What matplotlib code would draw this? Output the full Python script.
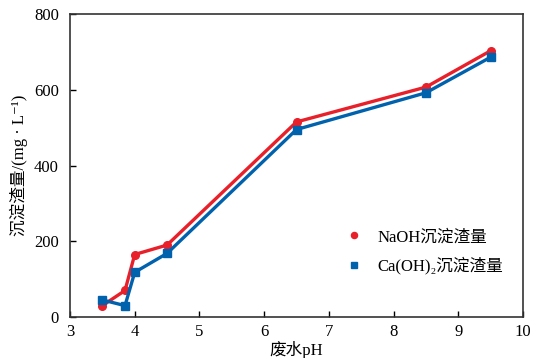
import matplotlib
matplotlib.use('Agg')
import matplotlib.pyplot as plt

plt.rcParams['font.family'] = ['Liberation Serif', 'Noto Sans CJK SC', 'DejaVu Serif']

PH = [3.5, 3.85, 4.0, 4.5, 6.5, 8.5, 9.5]
NAOH = [30, 70, 165, 190, 515, 607, 703]
CAOH = [45, 30, 118, 168, 495, 592, 686]

RED = '#e8202a'
BLUE = '#0062ad'


def main():
    fig = plt.figure(figsize=(5.34, 3.58), dpi=100)
    ax = fig.add_axes([70 / 534, 41 / 358, 453 / 534, 303 / 358])

    ax.plot(PH, NAOH, color=RED, lw=2.4, marker='o', ms=5.5,
            label='NaOH沉淀渣量')
    ax.plot(PH, CAOH, color=BLUE, lw=2.4, marker='s', ms=5.5,
            label='Ca(OH)₂沉淀渣量')

    ax.set_xlim(3, 10)
    ax.set_ylim(0, 800)
    ax.set_xticks(range(3, 11))
    ax.set_yticks([0, 200, 400, 600, 800])
    ax.tick_params(direction='in', length=4, width=1, labelsize=12,
                   right=False, top=False)
    ax.tick_params(axis='y', pad=8)
    ax.tick_params(axis='x', pad=5)
    for s in ax.spines.values():
        s.set_linewidth(1.2)
        s.set_color('#333333')

    ax.set_xlabel('废水pH', fontsize=12, labelpad=1)
    ax.set_ylabel('沉淀渣量/(mg · L⁻¹)', fontsize=12, labelpad=4)

    handles, labels = ax.get_legend_handles_labels()
    leg = ax.legend(handles, labels, frameon=False, fontsize=12,
                    loc='lower right', bbox_to_anchor=(0.99, 0.09),
                    handlelength=1.0, handletextpad=0.9, labelspacing=0.7,
                    markerscale=0.8)
    for h in leg.legend_handles:
        h.set_linestyle('none')

    fig.savefig('out.png', dpi=100)


if __name__ == '__main__':
    main()
